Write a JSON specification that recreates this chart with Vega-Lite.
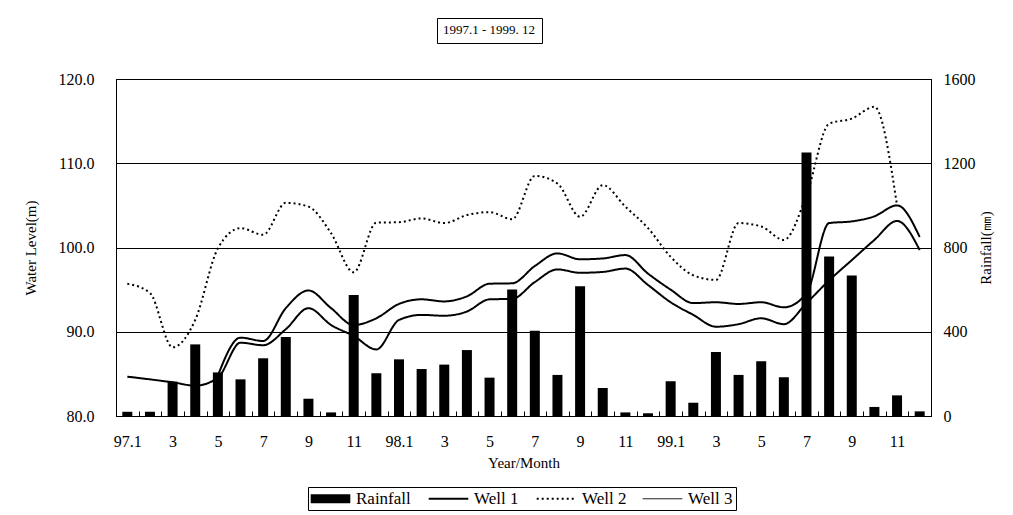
{
  "$schema": "https://vega.github.io/schema/vega-lite/v6.json",
  "width": 815,
  "height": 337,
  "autosize": {"type": "none"},
  "padding": {"left": 116, "top": 79, "right": 82, "bottom": 99},
  "background": "white",
  "data": {"values": [
    {"month": "97.1", "Rainfall": 20, "Well 1": 84.67, "Well 2": 95.7, "Well 3": null},
    {"month": "97.2", "Rainfall": 20, "Well 1": 84.35, "Well 2": 94.6, "Well 3": null},
    {"month": "97.3", "Rainfall": 163, "Well 1": 84.0, "Well 2": 88.15, "Well 3": null},
    {"month": "97.4", "Rainfall": 340, "Well 1": 83.6, "Well 2": 91.4, "Well 3": null},
    {"month": "97.5", "Rainfall": 207, "Well 1": 84.55, "Well 2": 99.9, "Well 3": 84.8},
    {"month": "97.6", "Rainfall": 174, "Well 1": 88.7, "Well 2": 102.3, "Well 3": 89.3},
    {"month": "97.7", "Rainfall": 274, "Well 1": 88.4, "Well 2": 101.5, "Well 3": 88.9},
    {"month": "97.8", "Rainfall": 375, "Well 1": 90.3, "Well 2": 105.3, "Well 3": 92.8},
    {"month": "97.9", "Rainfall": 82, "Well 1": 92.8, "Well 2": 104.85, "Well 3": 94.9},
    {"month": "97.10", "Rainfall": 17, "Well 1": 90.8, "Well 2": 101.7, "Well 3": 92.8},
    {"month": "97.11", "Rainfall": 575, "Well 1": 89.5, "Well 2": 97.05, "Well 3": 90.8},
    {"month": "97.12", "Rainfall": 203, "Well 1": 87.9, "Well 2": 102.95, "Well 3": 91.6},
    {"month": "98.1", "Rainfall": 269, "Well 1": 91.4, "Well 2": 103.0, "Well 3": 93.3},
    {"month": "98.2", "Rainfall": 223, "Well 1": 92.0, "Well 2": 103.45, "Well 3": 93.85},
    {"month": "98.3", "Rainfall": 244, "Well 1": 91.9, "Well 2": 102.9, "Well 3": 93.6},
    {"month": "98.4", "Rainfall": 313, "Well 1": 92.4, "Well 2": 103.85, "Well 3": 94.2},
    {"month": "98.5", "Rainfall": 182, "Well 1": 93.85, "Well 2": 104.2, "Well 3": 95.7},
    {"month": "98.6", "Rainfall": 601, "Well 1": 93.9, "Well 2": 103.35, "Well 3": 95.75},
    {"month": "98.7", "Rainfall": 405, "Well 1": 95.9, "Well 2": 108.5, "Well 3": 97.8},
    {"month": "98.8", "Rainfall": 195, "Well 1": 97.4, "Well 2": 107.6, "Well 3": 99.3},
    {"month": "98.9", "Rainfall": 616, "Well 1": 97.0, "Well 2": 103.65, "Well 3": 98.6},
    {"month": "98.10", "Rainfall": 133, "Well 1": 97.1, "Well 2": 107.4, "Well 3": 98.7},
    {"month": "98.11", "Rainfall": 17, "Well 1": 97.5, "Well 2": 104.85, "Well 3": 99.1},
    {"month": "98.12", "Rainfall": 13, "Well 1": 95.55, "Well 2": 102.3, "Well 3": 96.9},
    {"month": "99.1", "Rainfall": 165, "Well 1": 93.5, "Well 2": 98.9, "Well 3": 95.0},
    {"month": "99.2", "Rainfall": 63, "Well 1": 92.0, "Well 2": 96.7, "Well 3": 93.4},
    {"month": "99.3", "Rainfall": 304, "Well 1": 90.6, "Well 2": 96.15, "Well 3": 93.5},
    {"month": "99.4", "Rainfall": 195, "Well 1": 90.9, "Well 2": 102.9, "Well 3": 93.3},
    {"month": "99.5", "Rainfall": 260, "Well 1": 91.6, "Well 2": 102.5, "Well 3": 93.5},
    {"month": "99.6", "Rainfall": 184, "Well 1": 90.9, "Well 2": 100.9, "Well 3": 92.9},
    {"month": "99.7", "Rainfall": 1251, "Well 1": 93.4, "Well 2": 106.2, "Well 3": 94.55},
    {"month": "99.8", "Rainfall": 757, "Well 1": 96.1, "Well 2": 114.7, "Well 3": 102.9},
    {"month": "99.9", "Rainfall": 667, "Well 1": 98.5, "Well 2": 115.3, "Well 3": 103.1},
    {"month": "99.10", "Rainfall": 43, "Well 1": 100.9, "Well 2": 116.7, "Well 3": 103.7},
    {"month": "99.11", "Rainfall": 98, "Well 1": 103.15, "Well 2": 105.0, "Well 3": 105.0},
    {"month": "99.12", "Rainfall": 22, "Well 1": 99.7, "Well 2": null, "Well 3": 101.25}
  ]},
  "encoding": {
    "x": {
      "field": "month", "type": "ordinal", "sort": null,
      "scale": {"type": "band", "paddingInner": 0, "paddingOuter": 0},
      "axis": {
        "title": "Year/Month", "labelAngle": 0, "ticks": true, "tickBand": "extent", "tickSize": 5, "tickWidth": 1,
        "tickColor": "black", "tickOpacity": 1, "offset": -5, "domain": false, "zindex": 1,
        "labelPadding": 17, "titlePadding": 6,
        "labelExpr": "toNumber(split(datum.value, '.')[1]) % 2 == 1 ? (split(datum.value, '.')[1] == '1' ? datum.value : split(datum.value, '.')[1]) : ''"
      }
    }
  },
  "layer": [
    {
      "transform": [{"fold": ["Rainfall"], "as": ["series", "rain"]}],
      "mark": {"type": "bar", "size": 10},
      "encoding": {
        "y": {"field": "rain", "type": "quantitative", "scale": {"domain": [0, 1600], "nice": false},
          "axis": {"orient": "right", "values": [0, 400, 800, 1200, 1600], "format": "d", "grid": false, "ticks": false,
            "domainColor": "black", "labelPadding": 12, "title": "Rainfall(㎜)", "titleAngle": 270, "titlePadding": 18}},
        "color": {"field": "series", "type": "nominal",
          "scale": {"domain": ["Rainfall", "Well 1", "Well 2", "Well 3"], "range": ["black", "black", "black", "black"]},
          "legend": {
            "title": null, "orient": "none", "legendX": 192, "legendY": 408, "direction": "horizontal", "columns": 4,
            "strokeColor": "black", "padding": 3, "symbolSize": 324, "symbolOffset": 11, "labelOffset": 17, "columnPadding": 13,
            "labelFont": "Liberation Serif", "labelFontSize": 17, "labelColor": "black",
            "encode": {"symbols": {"update": {
              "shape": {"signal": "datum.value === 'Rainfall' ? 'M-2.2,-0.5H2.2V0.5H-2.2Z' : 'M-2.2,0H2.2'"},
              "fill": {"signal": "datum.value === 'Rainfall' ? 'black' : 'transparent'"},
              "stroke": {"value": "black"},
              "strokeDash": {"signal": "datum.value === 'Well 2' ? [2, 3] : [1, 0]"},
              "strokeWidth": {"signal": "datum.value === 'Well 1' ? 2 : datum.value === 'Well 2' ? 2 : datum.value === 'Rainfall' ? 0 : 1"},
              "opacity": {"value": 1}
            }}}
          }}
      }
    },
    {
      "transform": [{"fold": ["Well 1", "Well 2", "Well 3"], "as": ["series", "level"]}],
      "mark": {"type": "line", "interpolate": "monotone"},
      "encoding": {
        "y": {"field": "level", "type": "quantitative", "scale": {"domain": [80, 120], "nice": false},
          "axis": {"orient": "left", "values": [80, 90, 100, 110, 120], "format": ".1f", "grid": true, "gridColor": "black",
            "gridOpacity": 1, "ticks": false, "domainColor": "black", "labelPadding": 22, "title": "Water Level(m)", "titlePadding": 20}},
        "color": {"field": "series", "type": "nominal"},
        "opacity": {"datum": 1, "type": "quantitative", "scale": {"domain": [0, 1], "range": [1, 1]},
          "legend": {"title": "1997.1 - 1999. 12", "values": [], "orient": "none", "legendX": 321, "legendY": -61,
            "strokeColor": "black", "padding": 6, "titleFont": "Liberation Serif", "titleFontSize": 13,
            "titleFontWeight": "normal", "titleColor": "black", "titlePadding": 0}},
        "strokeDash": {"field": "series", "type": "nominal", "legend": null,
          "scale": {"domain": ["Well 1", "Well 2", "Well 3"], "range": [[1, 0], [2, 3], [1, 0]]}},
        "strokeWidth": {"field": "series", "type": "nominal", "legend": null,
          "scale": {"domain": ["Well 1", "Well 2", "Well 3"], "range": [2, 2, 1]}}
      }
    }
  ],
  "resolve": {"scale": {"y": "independent"}},
  "config": {
    "font": "Liberation Serif",
    "view": {"stroke": "black", "strokeWidth": 1},
    "axis": {"labelFont": "Liberation Serif", "labelFontSize": 16, "labelColor": "black",
      "titleFont": "Liberation Serif", "titleFontSize": 15, "titleFontWeight": "normal", "titleColor": "black"}
  }
}
